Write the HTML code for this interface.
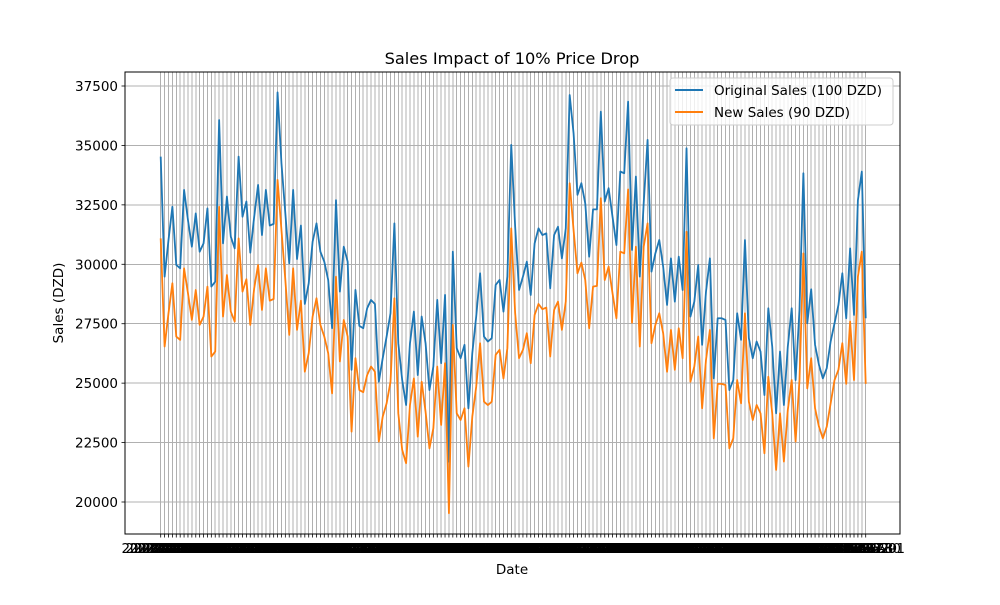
<!DOCTYPE html>
<html><head><meta charset="utf-8"><style>
body{margin:0;background:#fff;}
svg text{font-family:"DejaVu Sans","Liberation Sans",sans-serif;}
</style></head><body>
<svg id="chart" width="1000" height="600" xmlns="http://www.w3.org/2000/svg">
<rect width="1000" height="600" fill="#fff"/>
<g id="grid" shape-rendering="crispEdges"></g>
<g id="series"></g>
<g id="axes"></g>
<text x="512" y="64" text-anchor="middle" font-size="16.2">Sales Impact of 10% Price Drop</text>
<text x="512" y="574" text-anchor="middle" font-size="13.5">Date</text>
<text transform="translate(63,303) rotate(-90)" text-anchor="middle" font-size="13.5">Sales (DZD)</text>
<g>
<rect x="670" y="78" width="223" height="47" rx="3" fill="#fff" fill-opacity="0.8" stroke="#ccc"/>
<line x1="675" y1="90" x2="703" y2="90" stroke="#1f77b4" stroke-width="2"/>
<text x="714" y="95" font-size="13.5">Original Sales (100 DZD)</text>
<line x1="675" y1="112" x2="703" y2="112" stroke="#ff7f0e" stroke-width="2"/>
<text x="714" y="117" font-size="13.5">New Sales (90 DZD)</text>
</g>
</svg>
<script>
const original=[34530,29480,31020,32420,29970,29830,33130,31860,30740,32140,30530,30880,32350,29060,29270,36070,30880,32850,31160,30670,34530,32000,32640,30490,32000,33340,31230,33130,31630,31700,37230,34250,32140,30040,33130,30220,31630,28330,29200,30950,31720,30530,30110,29340,27310,32700,28850,30740,30110,25560,28920,27410,27310,28150,28500,28330,25060,26050,26960,27940,31720,26680,25130,24080,26680,28010,25340,27800,26680,24710,25700,28500,25840,28710,21700,30530,26470,26050,26610,23940,26260,27800,29620,26960,26750,26890,29130,29340,28010,29480,35020,31580,28920,29480,30110,28710,30880,31510,31230,31300,28990,31230,31580,30250,31510,37120,35510,32920,33410,32560,30320,32310,32310,36420,32640,33200,32000,30810,33900,33830,36840,30600,33690,29480,32560,35230,29690,30460,31020,29900,28290,30250,28430,30320,28920,34880,27800,28430,29970,26610,28850,30250,25200,27730,27730,27660,24710,25130,27940,26820,31020,26890,26050,26750,26330,24500,28150,26540,23730,26330,24080,26540,28150,25130,28080,33830,27520,28950,26610,25770,25200,25630,26750,27520,28290,29620,27730,30670,27870,32700,33900,27730];
const newSales=[31090,26540,27940,29200,26960,26820,29830,28780,27660,28920,27450,27800,29060,26120,26330,32420,27800,29550,28010,27590,31090,28850,29370,27450,28990,29970,28080,29830,28470,28540,33550,31440,29340,27030,29830,27240,28470,25480,26260,27800,28570,27450,26960,26260,24570,29480,25910,27660,26960,22960,26050,24710,24620,25340,25700,25480,22540,23590,24150,25060,28570,23730,22190,21630,24080,25200,22750,25060,23800,22260,23100,25700,23240,25840,19530,27450,23730,23450,23940,21490,23590,24850,26680,24220,24080,24220,26190,26400,25200,26470,31510,27940,26050,26400,27100,25840,27870,28330,28110,28180,26120,28080,28430,27240,28430,33410,31440,29620,30070,29340,27310,29060,29090,32780,29340,29900,28780,27730,30530,30460,33150,27540,30740,26540,30740,31720,26680,27450,27940,27100,25480,27240,25560,27310,26050,31370,25060,25700,26960,23940,25980,27240,22680,24970,24970,24920,22260,22680,25130,24150,27940,24220,23450,24080,23730,22050,25270,23730,21350,23730,21700,23870,25130,22540,25130,30460,24780,26050,23940,23170,22680,23170,24150,25130,25560,26680,24970,27590,25130,29480,30530,24970];
const yTicks=[20000,22500,25000,27500,30000,32500,35000,37500];
const startDate="2023-01-01";

const NS="http://www.w3.org/2000/svg";
const L=125,R=900,T=72,B=534;
const n=original.length;
const X0=160.7,X1=865.7;
function xPos(i){return X0+(X1-X0)*i/(n-1);}
function yPos(v){return 86+(37500-v)*(416/17500);}
function mk(tag,attrs,parent){const e=document.createElementNS(NS,tag);for(const k in attrs)e.setAttribute(k,attrs[k]);parent.appendChild(e);return e;}
const grid=document.getElementById('grid'),axes=document.getElementById('axes'),series=document.getElementById('series');
const d0=new Date(startDate+"T00:00:00Z");
for(let i=0;i<n;i++){
  const x=xPos(i);
  const gl=mk('line',{x1:x,y1:T,x2:x,y2:B,stroke:'#b0b0b0','stroke-width':1},grid);
  
  
  const tk=mk('line',{x1:x,y1:B,x2:x,y2:B+3.5,stroke:'#000','stroke-width':0.8},axes);
  
  
  const d=new Date(d0.getTime()+i*86400000);
  const t=mk('text',{x:x,y:553,'text-anchor':'middle','font-size':13.5},axes);
  t.textContent=d.toISOString().slice(0,10);
  
  
}
yTicks.forEach(v=>{
  const y=yPos(v);
  const gl=mk('line',{x1:L,y1:y,x2:R,y2:y,stroke:'#b0b0b0','stroke-width':1},grid);
  
  
  const tk=mk('line',{x1:L-3.5,y1:y,x2:L,y2:y,stroke:'#000','stroke-width':0.8},axes);
  
  
  const t=mk('text',{x:L-7,y:y+5,'text-anchor':'end','font-size':13.5},axes);
  t.textContent=v;
  
  
});
const frame=mk('rect',{x:L,y:T,width:R-L,height:B-T,fill:'none',stroke:'#000','stroke-width':1},axes);


function line(arr,color,name){
  const p=mk('polyline',{points:arr.map((v,i)=>xPos(i).toFixed(2)+','+yPos(v).toFixed(2)).join(' '),fill:'none',stroke:color,'stroke-width':1.8,'stroke-linejoin':'round'},series);
  
  
}
line(original,'#1f77b4','original-sales-line');
line(newSales,'#ff7f0e','new-sales-line');
</script>
</body></html>
